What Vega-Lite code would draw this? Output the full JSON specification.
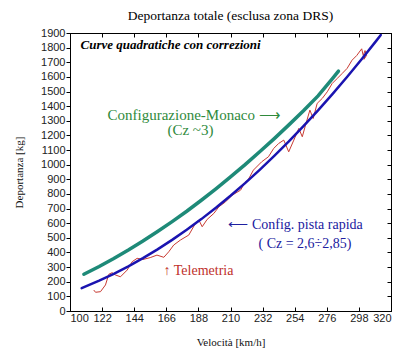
{
  "$schema": "https://vega.github.io/schema/vega-lite/v6.json",
  "width": 321,
  "height": 278,
  "autosize": {"type": "none"},
  "padding": {"left": 70, "top": 33, "right": 23, "bottom": 46},
  "background": "white",
  "title": {"text": "Deportanza totale (esclusa zona DRS)", "font": "Liberation Serif", "fontSize": 13.5, "fontWeight": "normal", "color": "#000", "offset": 5},
  "config": {
    "view": {"stroke": "#000", "strokeWidth": 1},
    "axis": {"labelFont": "Liberation Sans", "labelFontSize": 11, "labelColor": "#222", "titleFont": "Liberation Serif", "titleFontSize": 11, "titleFontWeight": "normal", "titleColor": "#111", "domainColor": "#000", "tickColor": "#000", "grid": false}
  },
  "datasets": {
    "curves": [
      {"s": "Monaco", "v": 109.5, "kg": 251},
      {"s": "Monaco", "v": 120, "kg": 304},
      {"s": "Monaco", "v": 130, "kg": 359},
      {"s": "Monaco", "v": 140, "kg": 417},
      {"s": "Monaco", "v": 150, "kg": 478},
      {"s": "Monaco", "v": 160, "kg": 543},
      {"s": "Monaco", "v": 170, "kg": 611},
      {"s": "Monaco", "v": 180, "kg": 682},
      {"s": "Monaco", "v": 190, "kg": 757},
      {"s": "Monaco", "v": 200, "kg": 835},
      {"s": "Monaco", "v": 210, "kg": 916},
      {"s": "Monaco", "v": 220, "kg": 1000},
      {"s": "Monaco", "v": 230, "kg": 1088},
      {"s": "Monaco", "v": 240, "kg": 1178},
      {"s": "Monaco", "v": 250, "kg": 1272},
      {"s": "Monaco", "v": 260, "kg": 1368},
      {"s": "Monaco", "v": 270, "kg": 1470},
      {"s": "Monaco", "v": 280, "kg": 1590},
      {"s": "Monaco", "v": 284, "kg": 1640},
      {"s": "Rapida", "v": 108, "kg": 156},
      {"s": "Rapida", "v": 120, "kg": 207},
      {"s": "Rapida", "v": 130, "kg": 254},
      {"s": "Rapida", "v": 140, "kg": 305},
      {"s": "Rapida", "v": 150, "kg": 361},
      {"s": "Rapida", "v": 160, "kg": 421},
      {"s": "Rapida", "v": 170, "kg": 486},
      {"s": "Rapida", "v": 180, "kg": 555},
      {"s": "Rapida", "v": 190, "kg": 628},
      {"s": "Rapida", "v": 200, "kg": 706},
      {"s": "Rapida", "v": 210, "kg": 788},
      {"s": "Rapida", "v": 220, "kg": 874},
      {"s": "Rapida", "v": 230, "kg": 965},
      {"s": "Rapida", "v": 240, "kg": 1060},
      {"s": "Rapida", "v": 250, "kg": 1159},
      {"s": "Rapida", "v": 260, "kg": 1263},
      {"s": "Rapida", "v": 270, "kg": 1371},
      {"s": "Rapida", "v": 280, "kg": 1484},
      {"s": "Rapida", "v": 290, "kg": 1601},
      {"s": "Rapida", "v": 300, "kg": 1722},
      {"s": "Rapida", "v": 310, "kg": 1848},
      {"s": "Rapida", "v": 313, "kg": 1886}
    ],
    "tele": [
      {"i": 1, "v": 116.3, "kg": 143}, {"i": 2, "v": 117.5, "kg": 128}, {"i": 3, "v": 120.9, "kg": 132},
      {"i": 4, "v": 124.3, "kg": 178}, {"i": 5, "v": 126.6, "kg": 251}, {"i": 6, "v": 128.9, "kg": 262},
      {"i": 7, "v": 131.2, "kg": 246}, {"i": 8, "v": 134.6, "kg": 234}, {"i": 9, "v": 139.2, "kg": 280},
      {"i": 10, "v": 142.6, "kg": 337}, {"i": 11, "v": 146, "kg": 360}, {"i": 12, "v": 150, "kg": 352},
      {"i": 13, "v": 155, "kg": 365}, {"i": 14, "v": 159.6, "kg": 382}, {"i": 15, "v": 164.3, "kg": 367},
      {"i": 16, "v": 167.7, "kg": 405}, {"i": 17, "v": 171.1, "kg": 451}, {"i": 18, "v": 175.7, "kg": 485},
      {"i": 19, "v": 181.4, "kg": 519}, {"i": 20, "v": 186, "kg": 599}, {"i": 21, "v": 188.3, "kg": 622},
      {"i": 22, "v": 190.6, "kg": 576}, {"i": 23, "v": 194, "kg": 626}, {"i": 24, "v": 198.6, "kg": 667},
      {"i": 25, "v": 202, "kg": 712}, {"i": 26, "v": 206.6, "kg": 746}, {"i": 27, "v": 211.2, "kg": 792},
      {"i": 28, "v": 216.9, "kg": 826}, {"i": 29, "v": 220, "kg": 880}, {"i": 30, "v": 222, "kg": 895},
      {"i": 31, "v": 225.7, "kg": 963}, {"i": 32, "v": 231.4, "kg": 1020}, {"i": 33, "v": 236, "kg": 1054},
      {"i": 34, "v": 239.6, "kg": 1111}, {"i": 35, "v": 243, "kg": 1145}, {"i": 36, "v": 246.5, "kg": 1168},
      {"i": 37, "v": 249.9, "kg": 1088}, {"i": 38, "v": 253.4, "kg": 1168}, {"i": 39, "v": 256.8, "kg": 1248},
      {"i": 40, "v": 259.2, "kg": 1191}, {"i": 41, "v": 261.4, "kg": 1270}, {"i": 42, "v": 264.4, "kg": 1373},
      {"i": 43, "v": 266.7, "kg": 1316}, {"i": 44, "v": 269.4, "kg": 1419}, {"i": 45, "v": 272.9, "kg": 1453},
      {"i": 46, "v": 276.3, "kg": 1498}, {"i": 47, "v": 279.7, "kg": 1555}, {"i": 48, "v": 283.1, "kg": 1589},
      {"i": 49, "v": 286.5, "kg": 1623}, {"i": 50, "v": 289.9, "kg": 1658}, {"i": 51, "v": 293.3, "kg": 1714},
      {"i": 52, "v": 296.5, "kg": 1746}, {"i": 53, "v": 299.9, "kg": 1792}, {"i": 54, "v": 301, "kg": 1746},
      {"i": 55, "v": 302.2, "kg": 1780}, {"i": 56, "v": 303.3, "kg": 1748}, {"i": 57, "v": 301.5, "kg": 1720},
      {"i": 58, "v": 303, "kg": 1770}
    ]
  },
  "resolve": {"axis": {"x": "independent", "y": "independent"}},
  "layer": [
    {
      "data": {"name": "tele"},
      "mark": {"type": "line", "color": "#c83a32", "strokeWidth": 1},
      "encoding": {
        "x": {"field": "v", "type": "quantitative", "scale": {"domain": [100, 320], "nice": false, "zero": false},
              "axis": {"title": "Velocità  [km/h]", "values": [100, 122, 144, 166, 188, 210, 232, 254, 276, 298, 320], "tickSize": -4, "labelPadding": 5, "titlePadding": 13}},
        "y": {"field": "kg", "type": "quantitative", "scale": {"domain": [0, 1900], "nice": false},
              "axis": {"title": "Deportanza  [kg]", "format": "d", "values": [0,100,200,300,400,500,600,700,800,900,1000,1100,1200,1300,1400,1500,1600,1700,1800,1900], "tickSize": 4, "labelPadding": 1, "titlePadding": 16}},
        "order": {"field": "i"}
      }
    },
    {
      "data": {"name": "curves"},
      "mark": {"type": "line", "strokeCap": "round"},
      "encoding": {
        "x": {"field": "v", "type": "quantitative", "axis": {"orient": "top", "title": null, "labels": false, "values": [100, 122, 144, 166, 188, 210, 232, 254, 276, 298, 320], "tickSize": -4}},
        "y": {"field": "kg", "type": "quantitative", "axis": {"orient": "right", "title": null, "labels": false, "values": [0,100,200,300,400,500,600,700,800,900,1000,1100,1200,1300,1400,1500,1600,1700,1800,1900], "tickSize": -4}},
        "color": {"field": "s", "type": "nominal", "scale": {"domain": ["Monaco", "Rapida"], "range": ["#1e8a78", "#1a14b0"]}, "legend": null},
        "strokeWidth": {"field": "s", "type": "nominal", "scale": {"domain": ["Monaco", "Rapida"], "range": [3.5, 2.5]}, "legend": null}
      }
    },
    {
      "data": {"values": [{"v": 107.2, "kg": 1817, "t": "Curve quadratiche con correzioni"}]},
      "mark": {"type": "text", "align": "left", "baseline": "middle", "font": "Liberation Serif", "fontSize": 13, "fontWeight": "bold", "fontStyle": "italic", "color": "#000"},
      "encoding": {"x": {"field": "v", "type": "quantitative", "axis": null}, "y": {"field": "kg", "type": "quantitative", "axis": null}, "text": {"field": "t"}}
    },
    {
      "data": {"values": [{"v": 125.7, "kg": 1339, "t": "Configurazione-Monaco ⟶"}, {"v": 166.8, "kg": 1236, "t": "(Cz ~3)"}]},
      "mark": {"type": "text", "align": "left", "baseline": "middle", "font": "Liberation Serif", "fontSize": 15, "color": "#2f8a3c"},
      "encoding": {"x": {"field": "v", "type": "quantitative", "axis": null}, "y": {"field": "kg", "type": "quantitative", "axis": null}, "text": {"field": "t"}}
    },
    {
      "data": {"values": [{"v": 208.6, "kg": 587, "t": "⟵ Config. pista rapida"}, {"v": 229.2, "kg": 458, "t": "( Cz = 2,6÷2,85)"}]},
      "mark": {"type": "text", "align": "left", "baseline": "middle", "font": "Liberation Serif", "fontSize": 14, "color": "#2020a0"},
      "encoding": {"x": {"field": "v", "type": "quantitative", "axis": null}, "y": {"field": "kg", "type": "quantitative", "axis": null}, "text": {"field": "t"}}
    },
    {
      "data": {"values": [{"v": 164.1, "kg": 273, "t": "↑ Telemetria"}]},
      "mark": {"type": "text", "align": "left", "baseline": "middle", "font": "Liberation Serif", "fontSize": 14, "color": "#c0302a"},
      "encoding": {"x": {"field": "v", "type": "quantitative", "axis": null}, "y": {"field": "kg", "type": "quantitative", "axis": null}, "text": {"field": "t"}}
    }
  ]
}
